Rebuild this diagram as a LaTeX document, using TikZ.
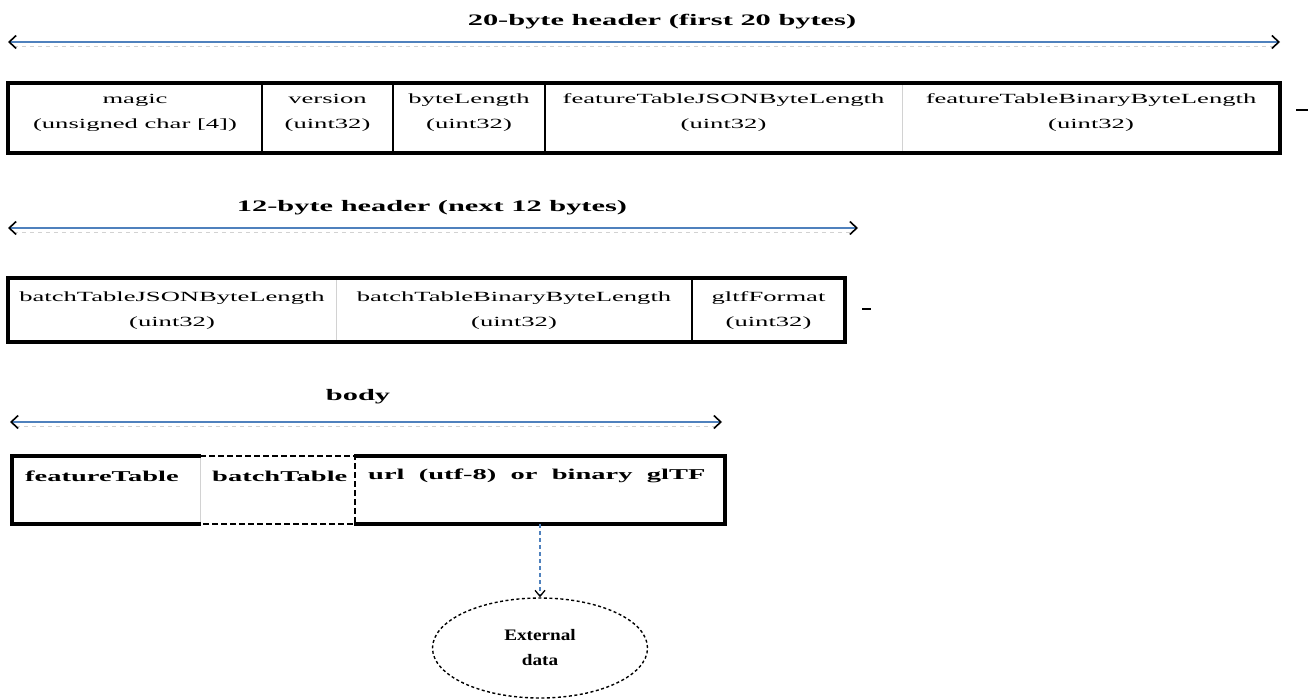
\documentclass[tikz,border=0pt]{standalone}
\usepackage{fontspec}
\setmainfont{Liberation Serif}[FakeStretch=1.9]
\newfontfamily\ellfont{Liberation Serif}[FakeStretch=1.2]
\usetikzlibrary{arrows.meta,shapes.geometric}
\definecolor{lineblue}{HTML}{4F81BD}
\begin{document}
\begin{tikzpicture}[x=1pt,y=-1pt,
  titletext/.style={font=\fontsize{16}{18}\selectfont\bfseries, inner sep=0pt},
  celltext/.style={font=\fontsize{14}{25}\selectfont, align=center, inner sep=0pt},
  lefttext/.style={font=\fontsize{15}{17}\selectfont\bfseries, anchor=west, inner sep=0pt},
  spanline/.style={draw=lineblue, line width=1.8pt,
    {Straight Barb[length=7pt,width=13pt,line width=1.6pt,color=black]}-{Straight Barb[length=7pt,width=13pt,line width=1.6pt,color=black]}},
  spanshadow/.style={draw=gray!35, line width=0.9pt, dash pattern=on 4pt off 4pt},
  outerbox/.style={draw=black, line width=3.2pt},
  strongdiv/.style={draw=black, line width=2.4pt},
  faintdiv/.style={draw=gray!35, line width=0.9pt},
  ellipsenode/.style={ellipse, draw=black, line width=1.4pt, dash pattern=on 3pt off 2.5pt,
    minimum width=215pt, minimum height=100pt, align=center,
    font=\ellfont\fontsize{16}{25}\selectfont\bfseries},
  endtick/.style={draw=black, line width=2.4pt}
]
\useasboundingbox (0,0) rectangle (1313,700);

% ---------- 20-byte header ----------
\node[titletext] (t1) at (662,22) {20-byte header (first 20 bytes)};
\coordinate (s1a) at (8,42);
\coordinate (s1b) at (1280,42);
\draw[spanshadow] ([xshift=6pt,yshift=-4pt]s1a) -- ([xshift=-6pt,yshift=-4pt]s1b);
\draw[spanline] (s1a) -- (s1b);

\coordinate (r1nw) at (8,83);
\coordinate (r1se) at (1280,153);
\draw[strongdiv] (262,83) -- (262,153);
\draw[strongdiv] (393,83) -- (393,153);
\draw[strongdiv] (545,83) -- (545,153);
\draw[faintdiv] (902,83) -- (902,153);
\draw[outerbox] (r1nw) rectangle (r1se);
\node[celltext] (magic) at (135,113) {magic\\(unsigned char [4])};
\node[celltext] (version) at (327.5,113) {version\\(uint32)};
\node[celltext] (bytelen) at (469,113) {byteLength\\(uint32)};
\node[celltext] (ftjson) at (723.5,113) {featureTableJSONByteLength\\(uint32)};
\node[celltext] (ftbin) at (1091,113) {featureTableBinaryByteLength\\(uint32)};
\coordinate (d1a) at (1296,110);
\coordinate (d1b) at (1308,110);
\draw[endtick] (d1a) -- (d1b);

% ---------- 12-byte header ----------
\node[titletext] (t2) at (432,208) {12-byte header (next 12 bytes)};
\coordinate (s2a) at (8,228);
\coordinate (s2b) at (858,228);
\draw[spanshadow] ([xshift=6pt,yshift=-4pt]s2a) -- ([xshift=-6pt,yshift=-4pt]s2b);
\draw[spanline] (s2a) -- (s2b);

\coordinate (r2nw) at (8,278);
\coordinate (r2se) at (845,342);
\draw[faintdiv] (336,278) -- (336,342);
\draw[strongdiv] (692,278) -- (692,342);
\draw[outerbox] (r2nw) rectangle (r2se);
\node[celltext] (btjson) at (172,311) {batchTableJSONByteLength\\(uint32)};
\node[celltext] (btbin) at (514,311) {batchTableBinaryByteLength\\(uint32)};
\node[celltext] (gltffmt) at (768.5,311) {gltfFormat\\(uint32)};
\coordinate (d2a) at (862,309);
\coordinate (d2b) at (871,309);
\draw[endtick] (d2a) -- (d2b);

% ---------- body ----------
\node[titletext] (t3) at (358,397) {body};
\coordinate (s3a) at (10,422);
\coordinate (s3b) at (722,422);
\draw[spanshadow] ([xshift=6pt,yshift=-4pt]s3a) -- ([xshift=-6pt,yshift=-4pt]s3b);
\draw[spanline] (s3a) -- (s3b);

\coordinate (r3nw) at (12,456);
\coordinate (r3se) at (725,524);
\draw[faintdiv] (200,456) -- (200,524);
\draw[outerbox] (r3nw) rectangle (r3se);
\draw[draw=white, line width=3.6pt] (201,456) -- (354,456) (201,524) -- (354,524);
\draw[draw=black, line width=2.6pt, dash pattern=on 6pt off 3pt] (200,456) -- (355,456) -- (355,524) -- (200,524);
\node[lefttext] (ft) at (25,476) {featureTable};
\node[lefttext] (bt) at (212,476) {batchTable};
\node[lefttext] (gltf) at (368,476) {url\ \ (utf-8)\ \ or\ \ binary\ \ glTF};

% ---------- external data ----------
\node[ellipsenode] (ext) at (540,648) {External\\data};
\coordinate (bodybottom) at (540,524);
\draw[draw=lineblue, line width=1.2pt, dash pattern=on 4pt off 3pt,
  -{Straight Barb[length=6pt,width=10pt,line width=1.3pt,color=black]}]
  (bodybottom) -- (ext.north);
\end{tikzpicture}
\end{document}
